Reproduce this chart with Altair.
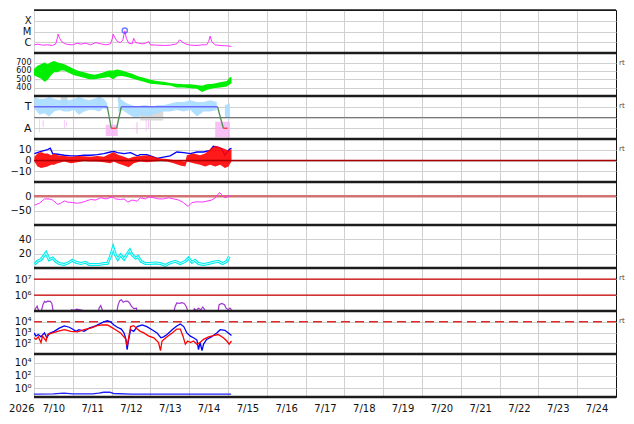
import altair as alt
import pandas as pd

# ---------------- data ----------------
# time: days since 2026-07-10 00:00 (axis runs 7/10 .. 7/25)
day_ticks = list(range(15))

# Panel 1: GOES X-ray flux (log10 W/m^2)
xray_day = [0.01, 0.09, 0.22, 0.35, 0.48, 0.56, 0.61, 0.62, 0.66, 0.71, 0.78, 0.86, 0.99, 1.12, 1.21,
            1.33, 1.46, 1.59, 1.72, 1.85, 1.97, 2.02, 2.04, 2.08, 2.15, 2.23, 2.29, 2.34, 2.38, 2.44,
            2.53, 2.57, 2.62, 2.70, 2.79, 2.87, 2.96, 3.00, 3.17, 3.34, 3.51, 3.68, 3.75, 3.81, 3.90,
            4.03, 4.20, 4.33, 4.45, 4.50, 4.54, 4.58, 4.67, 4.79, 4.97, 5.09]
xray_log10 = [-6.24, -6.18, -6.27, -6.24, -6.30, -6.15, -5.48, -5.24, -5.63, -5.94, -6.09, -6.21, -6.24,
              -6.09, -6.18, -6.09, -6.24, -6.03, -6.15, -6.24, -6.15, -5.63, -5.24, -5.54, -5.94, -6.03,
              -5.78, -4.94, -5.63, -6.09, -6.15, -5.63, -6.03, -6.09, -6.15, -6.09, -5.94, -6.24, -6.27,
              -6.30, -6.27, -6.15, -5.78, -5.94, -6.15, -6.27, -6.30, -6.24, -6.24, -5.94, -5.42, -5.94,
              -6.24, -6.30, -6.33, -6.39]
flare_day = [2.34]
flare_log10 = [-4.91]

# Panel 2: solar wind speed envelope (km/s)
speed_day = [0.0, 0.09, 0.18, 0.27, 0.35, 0.44, 0.52, 0.61, 0.69, 0.78, 0.86, 0.95, 1.03, 1.12, 1.21,
             1.29, 1.42, 1.55, 1.68, 1.80, 1.93, 2.04, 2.15, 2.27, 2.40, 2.53, 2.66, 2.83, 3.00, 3.17,
             3.34, 3.51, 3.68, 3.86, 4.03, 4.20, 4.33, 4.45, 4.62, 4.80, 4.97, 5.05, 5.09]
speed_hi = [623, 662, 681, 700, 681, 708, 719, 700, 692, 681, 662, 642, 623, 604, 593, 585, 566, 554,
            566, 585, 604, 604, 616, 604, 585, 566, 539, 516, 492, 477, 470, 454, 446, 439, 439, 431,
            420, 439, 446, 462, 477, 523, 527]
speed_lo = [546, 527, 508, 470, 489, 546, 585, 585, 604, 604, 585, 566, 546, 539, 527, 516, 500, 500,
            508, 516, 527, 500, 535, 539, 527, 508, 489, 470, 446, 439, 431, 423, 400, 400, 392, 385,
            346, 369, 392, 400, 412, 439, 450]

# Panel 3: IMF angle (T = 315, A = 135)
phi_day = [0.01, 0.14, 0.27, 0.39, 0.52, 0.65, 0.78, 0.91, 1.03, 1.16, 1.29, 1.42, 1.55, 1.68, 1.80, 1.89,
           2.17, 2.27, 2.40, 2.53, 2.66, 2.79, 2.91, 3.04, 3.17, 3.34, 3.51, 3.68, 3.86, 4.03, 4.20,
           4.37, 4.54, 4.71,
           4.92, 5.05]
phi_hi = [396, 382, 382, 396, 382, 369, 382, 369, 382, 396, 382, 369, 382, 396, 382, 342,
          396, 369, 342, 328, 315, 328, 328, 315, 328, 328, 342, 355, 355, 369, 355, 355, 369, 355,
          328, 342]
phi_lo = [302, 248, 261, 234, 275, 288, 275, 275, 288, 248, 275, 288, 288, 275, 302, 288,
          275, 288, 261, 234, 221, 248, 234, 248, 261, 275, 275, 288, 275, 288, 234, 275, 275, 288,
          234, 207]
phi_seg = [1] * 16 + [2] * 18 + [3] * 2
pink_d0 = [0.13, 0.22, 0.78, 0.83, 1.85, 2.64, 2.88, 2.94, 4.67]
pink_d1 = [0.15, 0.25, 0.80, 0.85, 2.16, 2.67, 2.90, 2.97, 5.05]
pink_lo = [100, 150, 130, 150, 70, 90, 110, 140, 60]
pink_hi = [210, 200, 205, 190, 165, 185, 205, 200, 190]
gray_d0 = [0.69, 1.63, 2.16, 2.74]
gray_d1 = [0.86, 1.72, 2.23, 3.33]
gray_lo = [330, 330, 355, 200]
gray_hi = [400, 395, 405, 275]
sector_d0 = [0.00, 1.89, 1.99, 2.13, 2.25, 4.73, 4.88]
sector_p0 = [315, 315, 135, 135, 315, 315, 135]
sector_d1 = [1.89, 1.99, 2.13, 2.25, 4.73, 4.88, 4.99]
sector_p1 = [315, 135, 135, 315, 315, 135, 135]
sector_kind = ["T", "turn", "A", "turn", "T", "turn", "A"]
phi_mid = [225]

# Panel 4: IMF Bt and Bz (nT)
bt_day = [0.01, 0.18, 0.35, 0.42, 0.48, 0.61, 0.78, 0.95, 1.12, 1.29, 1.46, 1.63, 1.80, 1.97, 2.06, 2.15,
          2.32, 2.49, 2.66, 2.74, 2.91, 3.09, 3.17, 3.34, 3.51, 3.68, 3.86, 4.03, 4.20, 4.37, 4.54,
          4.62, 4.75, 4.84, 4.92, 5.01, 5.05, 5.09]
bt_val = [6.4, 8.5, 10.2, 11.4, 6.4, 5.8, 4.9, 4.3, 4.3, 4.9, 4.9, 5.5, 6.4, 7.9, 8.5, 7.3, 6.4, 7.3,
          4.3, 5.5, 5.5, 3.1, 1.9, 3.1, 4.3, 7.9, 7.3, 6.4, 7.9, 7.9, 9.3, 13.2, 12.3, 10.8, 4.9, 9.3,
          10.8, 11.4]
bz_day = [0.01, 0.09, 0.18, 0.27, 0.35, 0.44, 0.52, 0.61, 0.78, 0.95, 1.12, 1.29, 1.46, 1.63, 1.80, 1.97,
          2.06, 2.15, 2.32, 2.44, 2.57, 2.74, 2.91, 3.09, 3.26, 3.43, 3.60, 3.77, 3.90, 3.94, 4.11,
          4.28, 4.41, 4.54, 4.67, 4.80, 4.92, 5.01, 5.09]
bz_hi = [3.4, 6.4, 7.9, 6.4, 6.4, 4.9, 6.4, 4.9, 4.3, 3.4, 4.3, 4.0, 3.4, 4.3, 3.4, 6.4, 7.9, 5.5, 3.4,
         1.9, 3.4, 4.3, 4.9, 3.4, 1.9, 1.4, 0.5, -0.4, -1.0, 4.9, 6.4, 4.9, 6.4, 10.8, 13.8, 12.3,
         10.8, 9.3, 10.8]
bz_lo = [-1.0, -5.5, -6.9, -6.3, -5.5, -4.0, -4.0, -2.5, -1.0, -2.5, -1.6, -0.4, -1.0, -1.0, -1.6, -2.5,
         -1.0, -2.5, -4.6, -6.3, -2.5, -1.0, -1.6, -1.0, -0.4, -1.0, -2.5, -4.6, -5.5, -1.0, -2.5,
         -4.0, -5.5, -4.0, -5.5, -4.0, -6.9, -5.5, -1.0]
bz_zero = [0]

# Panel 5: Dst (nT)
dst_day = [0.01, 0.14, 0.27, 0.39, 0.48, 0.61, 0.69, 0.78, 0.86, 0.99, 1.12, 1.21, 1.33, 1.46, 1.59,
           1.72, 1.85, 2.02, 2.10, 2.23, 2.32, 2.42, 2.53, 2.66, 2.74, 2.87, 2.96, 3.09, 3.21, 3.34,
           3.47, 3.60, 3.73, 3.85, 3.97, 4.07, 4.20, 4.33, 4.45, 4.58, 4.67, 4.78, 4.84, 4.92, 5.01, 5.07]
dst_val = [-31, -24, -9, -9, -13, -28, -24, -16, -20, -22, -24, -22, -17, -11, -13, -5, -9, -2, -9, -11,
           -9, -20, -13, -17, -5, -9, -2, -5, -9, -9, -5, -9, -13, -22, -35, -22, -19, -20, -17, -13,
           -5, 13, 6, -5, 0, 2]
dst_zero = [0]

# Panel 6: density (cyan)
den_day = [0.01, 0.09, 0.18, 0.27, 0.31, 0.39, 0.48, 0.56, 0.65, 0.78, 0.91, 0.99, 1.08, 1.21, 1.33,
           1.42, 1.55, 1.68, 1.80, 1.89, 1.97, 2.04, 2.10, 2.16, 2.23, 2.32, 2.40, 2.47, 2.53, 2.62,
           2.68, 2.76, 2.87, 3.00, 3.13, 3.26, 3.38, 3.51, 3.64, 3.77, 3.90, 3.98, 4.07, 4.15, 4.24,
           4.37, 4.50, 4.62, 4.75, 4.86, 4.97, 5.03]
den_val = [4.9, 9.3, 11.6, 18.2, 21.3, 11.6, 13.8, 9.3, 6.2, 4.9, 8.0, 10.7, 8.0, 6.2, 8.0, 4.9, 4.9,
           4.9, 6.2, 6.2, 16, 28.4, 18.2, 12.5, 18.2, 12.5, 19.6, 24.9, 18.2, 13.8, 16, 9.3, 6.2, 6.2,
           7.1, 6.2, 3.6, 7.1, 9.3, 6.2, 9.3, 13.8, 8.0, 10.7, 6.2, 4.9, 6.2, 8.0, 9.3, 6.2, 9.3, 16]

# Panel 7: electron fluence (purple)
fl_day = [0.0, 0.03, 0.08, 0.11, 0.18, 0.23, 0.27, 0.31, 0.35, 0.42, 0.46, 0.49, 0.52, 0.93, 0.97, 1.03,
          1.10, 1.19, 1.25, 1.27, 1.63, 1.68, 1.72, 1.77, 1.80, 2.13, 2.17, 2.21, 2.25, 2.30, 2.36,
          2.42, 2.47, 2.51, 2.57, 2.64, 2.68, 3.58, 3.64, 3.68, 3.75, 3.81, 3.87, 3.92, 3.96, 3.99,
          4.09, 4.13, 4.18, 4.24, 4.30, 4.35, 4.40, 4.44, 4.73, 4.77, 4.84, 4.91, 4.95, 5.01, 5.05, 5.09]
fl_val = [5e4, 1.3e5, 2e5, 1.2e5, 8e4, 2.5e5, 4e5, 3.5e5, 4.2e5, 4e5, 3e5, 1.1e5, 5e4, 5e4, 1.2e5,
          1.1e5, 1.3e5, 1.2e5, 1.1e5, 5e4, 5e4, 1.6e5, 2.2e5, 1e5, 5e4, 8e4, 2.5e5, 4.5e5, 5e5, 3.5e5,
          4.2e5, 4e5, 3e5, 2e5, 1.4e5, 1.5e5, 5e4, 5e4, 2e5, 3.2e5, 3e5, 3.3e5, 3e5, 2e5, 1.1e5, 5e4,
          5e4, 1.4e5, 1.1e5, 1.5e5, 1.2e5, 1.8e5, 1.2e5, 5e4, 5e4, 2.5e5, 3e5, 2.5e5, 1.5e5, 1.2e5,
          1.5e5, 1.2e5]
fl_thresholds = [1e6, 1e7]

# Panel 8: electron flux, two satellites (log10)
eb_day = [0.0, 0.05, 0.11, 0.18, 0.27, 0.33, 0.39, 0.52, 0.65, 0.78, 0.91, 0.99, 1.08, 1.16, 1.29, 1.42,
          1.59, 1.72, 1.80, 1.89, 1.97, 2.06, 2.15, 2.25, 2.32, 2.37, 2.40, 2.44, 2.49, 2.57, 2.66,
          2.79, 2.91, 3.04, 3.17, 3.27, 3.34, 3.43, 3.56, 3.68, 3.77, 3.86, 3.94, 4.03, 4.11, 4.20,
          4.24, 4.28, 4.33, 4.37, 4.45, 4.58, 4.71, 4.80, 4.92, 5.01, 5.09]
eb_log10 = [2.96, 2.66, 2.81, 2.60, 2.96, 2.51, 2.90, 3.11, 3.40, 3.61, 3.49, 3.32, 3.11, 3.26, 3.11,
            3.40, 3.61, 3.85, 4.0, 4.09, 4.0, 3.70, 3.49, 3.32, 2.96, 2.36, 1.41, 2.36, 3.26, 3.11,
            3.55, 3.70, 3.55, 3.26, 2.96, 2.51, 2.60, 2.81, 3.26, 3.61, 3.79, 3.55, 2.96, 2.66, 2.51,
            2.30, 1.41, 2.07, 1.32, 1.92, 2.36, 2.60, 2.96, 3.26, 3.20, 2.96, 2.72]
er_day = [0.0, 0.05, 0.11, 0.18, 0.22, 0.31, 0.35, 0.48, 0.61, 0.78, 0.95, 1.12, 1.29, 1.46, 1.63, 1.76,
          1.89, 1.97, 2.10, 2.23, 2.36, 2.40, 2.44, 2.49, 2.57, 2.66, 2.74, 2.83, 2.96, 3.09, 3.21,
          3.26, 3.30, 3.43, 3.56, 3.68, 3.77, 3.84, 3.90, 3.96, 4.03, 4.11, 4.20, 4.28, 4.37, 4.50,
          4.62, 4.75, 4.88, 4.97, 5.03, 5.09]
er_log10 = [2.51, 2.36, 2.60, 2.07, 2.66, 2.21, 2.81, 2.96, 3.11, 3.26, 3.11, 3.05, 3.26, 3.40, 3.64,
            3.70, 3.70, 3.55, 3.26, 2.96, 2.42, 1.77, 2.51, 3.55, 3.64, 3.32, 3.11, 2.96, 2.66, 2.51,
            2.07, 1.32, 2.21, 2.60, 2.96, 3.32, 3.32, 2.66, 1.92, 2.21, 2.07, 2.21, 1.92, 2.07, 2.36,
            2.60, 2.72, 2.81, 2.51, 2.21, 1.92, 2.21]
e_alert = [1e4]

# Panel 9: proton flux
pr_day = [0.0, 0.5, 0.77, 1.0, 1.5, 1.67, 1.8, 1.95, 2.05, 2.5, 3.0, 3.5, 4.0, 4.5, 5.08]
pr_val = [0.13, 0.14, 0.18, 0.14, 0.14, 0.18, 0.25, 0.25, 0.16, 0.13, 0.13, 0.13, 0.13, 0.13, 0.13]

rt_label = ["rt"]

# ---------------- chart ----------------
W, H = 582, 43
GRID = "#d0d0d0"
FONT = "DejaVu Sans"
SCALE_X = alt.Scale(domain=[0, 15], nice=False, zero=False)


def x_axis(bottom):
    common = dict(values=day_ticks, grid=True, gridColor=GRID, ticks=False, domain=False)
    if bottom:
        return alt.Axis(labelExpr="'7/' + (10 + datum.value)",
                        labelOffset=W / 30, labelFlush=False, labelOverlap=False, labelPadding=6,
                        labelFontSize=10, labelColor="#111", title="2026", titleX=0, titleY=6,
                        titleAlign="right", titleBaseline="top", titleFontSize=10,
                        titleFontWeight="normal", titleColor="#111", **common)
    return alt.Axis(labels=False, title=None, **common)


def X(field, bottom=False):
    return alt.X(f"{field}:Q", scale=SCALE_X, axis=x_axis(bottom))


def X2(field):
    return alt.X2(f"{field}:Q")


def ymaker(domain, values, label_expr=None, log=False, fs=10):
    sc = alt.Scale(domain=domain, type="log" if log else "linear", nice=False, zero=False)
    kw = dict(values=values, grid=True, gridColor=GRID, ticks=False, domain=False, labelPadding=3,
              labelFontSize=fs, labelColor="#111", labelOverlap=False, labelFlush=False,
              minExtent=22, maxExtent=22, title=None)
    if label_expr:
        kw["labelExpr"] = label_expr
    ax = alt.Axis(**kw)

    def Y(field):
        return alt.Y(f"{field}:Q", scale=sc, axis=ax)
    return Y


one = pd.DataFrame({"k": [0]})
rt_df = pd.DataFrame({"t": rt_label})


def panel(layers, rt=False, top_w=2.5, bottom=False):
    ls = list(layers)
    ls.append(alt.Chart(one).mark_rule(color="#1c1c1c", strokeWidth=top_w)
              .encode(x=alt.value(0), x2=alt.value(W), y=alt.value(0)))
    if bottom:
        ls.append(alt.Chart(one).mark_rule(color="#1c1c1c", strokeWidth=2.5)
                  .encode(x=alt.value(0), x2=alt.value(W), y=alt.value(H)))
    if rt:
        ls.append(alt.Chart(rt_df).mark_text(align="left", baseline="middle", fontSize=7,
                                             color="#444", font=FONT)
                  .encode(x=alt.value(W + 3), y=alt.value(10), text="t:N"))
    return alt.layer(*ls).properties(width=W, height=H)


# Panel 1
Y1 = ymaker([1e-7, 1e-3], [1e-6, 1e-5, 1e-4],
            "datum.value < 3e-6 ? 'C' : datum.value < 3e-5 ? 'M' : 'X'", log=True, fs=10)
xray_df = pd.DataFrame({"d": xray_day, "f": [10 ** v for v in xray_log10]})
flare_df = pd.DataFrame({"d": flare_day, "f": [10 ** v for v in flare_log10]})
p1 = panel([
    alt.Chart(xray_df).mark_line(color="#ff33ff", strokeWidth=1, clip=True).encode(x=X("d"), y=Y1("f")),
    alt.Chart(flare_df).mark_point(shape="circle", filled=False, color="#3344ff", size=26,
                                   strokeWidth=1.4).encode(x=X("d"), y=Y1("f")),
], top_w=1.5)

# Panel 2
Y2 = ymaker([298, 815], [400, 500, 600, 700], fs=8)
speed_df = pd.DataFrame({"d": speed_day, "hi": speed_hi, "lo": speed_lo})
p2 = panel([
    alt.Chart(speed_df).mark_area(color="#00ee00", clip=True).encode(x=X("d"), y=Y2("hi"), y2="lo:Q"),
], rt=True)

# Panel 3
Y3 = ymaker([45, 405], [135, 225, 315],
            "datum.value == 135 ? 'A' : datum.value == 315 ? 'T' : ''", fs=11)
phi_df = pd.DataFrame({"d": phi_day, "hi": phi_hi, "lo": phi_lo, "seg": phi_seg})
pink_df = pd.DataFrame({"d0": pink_d0, "d1": pink_d1, "lo": pink_lo, "hi": pink_hi})
gray_df = pd.DataFrame({"d0": gray_d0, "d1": gray_d1, "lo": gray_lo, "hi": gray_hi})
sec_df = pd.DataFrame({"d0": sector_d0, "p0": sector_p0, "d1": sector_d1, "p1": sector_p1,
                       "kind": sector_kind})
mid_df = pd.DataFrame({"v": phi_mid})
p3 = panel([
    alt.Chart(gray_df).mark_rect(color="#cfcfcf", opacity=0.8, clip=True)
    .encode(x=X("d0"), x2=X2("d1"), y=Y3("hi"), y2="lo:Q"),
    alt.Chart(pink_df).mark_rect(color="#f6b2f6", opacity=0.8, clip=True)
    .encode(x=X("d0"), x2=X2("d1"), y=Y3("hi"), y2="lo:Q"),
    alt.Chart(phi_df).mark_area(color="#a9dcff", opacity=0.9, clip=True)
    .encode(x=X("d"), y=Y3("hi"), y2="lo:Q", detail="seg:N"),
    alt.Chart(mid_df).mark_rule(color="#777777", strokeWidth=1).encode(y=Y3("v")),
    alt.Chart(sec_df).mark_rule(strokeWidth=1.3)
    .encode(x=X("d0"), x2=X2("d1"), y=Y3("p0"), y2="p1:Q",
            color=alt.Color("kind:N", legend=None,
                            scale=alt.Scale(domain=["T", "A", "turn"],
                                            range=["#6a6aff", "#ff3333", "#4f8f4f"]))),
], rt=True)

# Panel 4
Y4 = ymaker([-20, 20], [-10, 0, 10])
bt_df = pd.DataFrame({"d": bt_day, "v": bt_val})
bz_df = pd.DataFrame({"d": bz_day, "hi": bz_hi, "lo": bz_lo})
bz0_df = pd.DataFrame({"v": bz_zero})
p4 = panel([
    alt.Chart(bt_df).mark_line(color="#0000ff", strokeWidth=1.3, clip=True).encode(x=X("d"), y=Y4("v")),
    alt.Chart(bz_df).mark_area(color="#ff0000", opacity=0.9, clip=True).encode(x=X("d"), y=Y4("hi"), y2="lo:Q"),
    alt.Chart(bz0_df).mark_rule(color="#aa0000", strokeWidth=1.3).encode(y=Y4("v")),
], rt=True)

# Panel 5
Y5 = ymaker([-100, 50], [-50, 0])
dst_df = pd.DataFrame({"d": dst_day, "v": dst_val})
dst0_df = pd.DataFrame({"v": dst_zero})
p5 = panel([
    alt.Chart(dst0_df).mark_rule(color="#d27272", strokeWidth=2.5).encode(y=Y5("v")),
    alt.Chart(dst_df).mark_line(color="#ff33ff", strokeWidth=1, clip=True).encode(x=X("d"), y=Y5("v")),
])

# Panel 6
Y6 = ymaker([0, 60], [20, 40])
den_df = pd.DataFrame({"d": den_day, "v": den_val})
p6 = panel([
    alt.Chart(den_df).mark_line(color="#00eeee", strokeWidth=3, clip=True).encode(x=X("d"), y=Y6("v")),
    alt.Chart(den_df).mark_line(color="#c8ffff", strokeWidth=1, clip=True).encode(x=X("d"), y=Y6("v")),
])

# Panel 7
Y7 = ymaker([1e5, 5e7], [1e6, 1e7], "datum.value > 3e6 ? '10⁷' : '10⁶'", log=True)
fl_df = pd.DataFrame({"d": fl_day, "v": fl_val})
flt_df = pd.DataFrame({"v": fl_thresholds})
p7 = panel([
    alt.Chart(flt_df).mark_rule(color="#cc0000", strokeWidth=1.3).encode(y=Y7("v")),
    alt.Chart(fl_df).mark_line(color="#a035d0", strokeWidth=1.2, clip=True).encode(x=X("d"), y=Y7("v")),
], rt=True)

# Panel 8
Y8 = ymaker([10, 1e5], [1e2, 1e3, 1e4],
            "datum.value > 3e3 ? '10⁴' : datum.value > 300 ? '10³' : '10²'", log=True)
eb_df = pd.DataFrame({"d": eb_day, "v": [10 ** v for v in eb_log10]})
er_df = pd.DataFrame({"d": er_day, "v": [10 ** v for v in er_log10]})
ea_df = pd.DataFrame({"v": e_alert})
p8 = panel([
    alt.Chart(ea_df).mark_rule(color="#dd2a2a", strokeWidth=1.5, strokeDash=[9, 5]).encode(y=Y8("v")),
    alt.Chart(eb_df).mark_line(color="#0000ff", strokeWidth=1.3, clip=True).encode(x=X("d"), y=Y8("v")),
    alt.Chart(er_df).mark_line(color="#ff0000", strokeWidth=1.3, clip=True).encode(x=X("d"), y=Y8("v")),
], rt=True)

# Panel 9
Y9 = ymaker([0.045, 2.5e5], [1, 1e2, 1e4],
            "datum.value > 3e3 ? '10⁴' : datum.value > 30 ? '10²' : '10⁰'", log=True)
pr_df = pd.DataFrame({"d": pr_day, "v": pr_val})
p9 = panel([
    alt.Chart(pr_df).mark_line(color="#2222ff", strokeWidth=1.3, clip=True)
    .encode(x=X("d", bottom=True), y=Y9("v")),
], bottom=True)

chart = (
    alt.vconcat(p1, p2, p3, p4, p5, p6, p7, p8, p9, spacing=0, bounds="flush")
    .resolve_scale(y="independent")
    .properties(padding={"left": 0, "top": 0, "right": 0, "bottom": 0})
    .configure_view(stroke="#111111", strokeWidth=1)
    .configure_axis(labelFont=FONT, titleFont=FONT)
    .configure_text(font=FONT)
)

chart.save("out.html", embed_options={"renderer": "svg", "actions": False})
